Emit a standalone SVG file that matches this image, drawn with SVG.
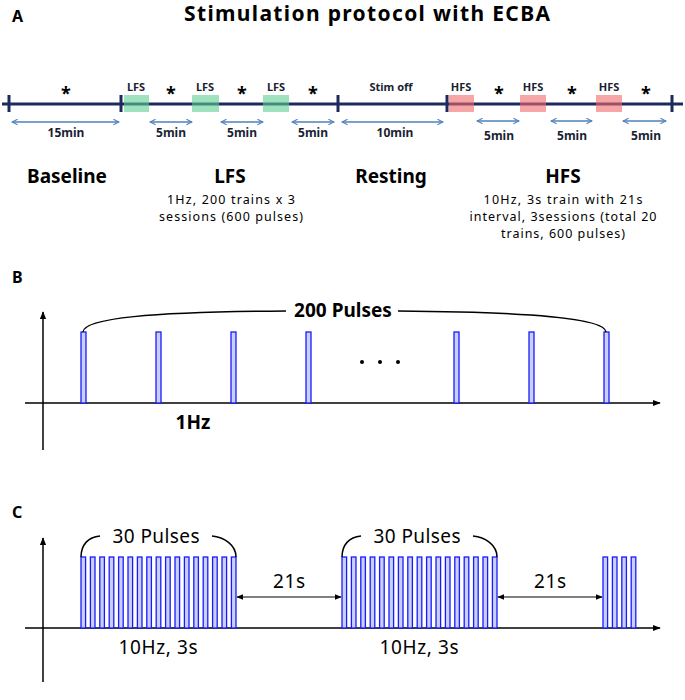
<svg xmlns="http://www.w3.org/2000/svg" xmlns:xlink="http://www.w3.org/1999/xlink" width="685" height="700" viewBox="0 0 685 700">
<style>
text{font-family:"Noto Sans","Open Sans","Liberation Sans",sans-serif;fill:#000}
.b{font-weight:bold}
.panel{font-size:16px;font-weight:bold}
.small{font-size:11px;font-weight:bold;fill:#1a1f33;text-anchor:middle}
.star{font-size:18px;font-weight:bold;text-anchor:middle}
.min{font-size:12px;font-weight:bold;fill:#1a1f33;text-anchor:middle}
.head{font-size:19px;font-weight:bold;text-anchor:middle}
.sub{font-size:12.5px;text-anchor:middle}
.ann{font-size:19px;text-anchor:middle}
.tl{stroke:#1c2a5e;stroke-width:3;fill:none}
.tick{stroke:#1c2a5e;stroke-width:3}
.lfs{fill:#5fcf92;fill-opacity:0.6}
.hfs{fill:#f06a6a;fill-opacity:0.6}
.dur{stroke:#4f81bd;stroke-width:1.5;fill:none;marker-start:url(#oa);marker-end:url(#oa)}
.axis{stroke:#000;stroke-width:1.5;fill:none;marker-end:url(#fa)}
.dbl{stroke:#000;stroke-width:1.2;fill:none;marker-start:url(#fa2);marker-end:url(#fa2)}
.brace{stroke:#000;stroke-width:1.5;fill:none}
.p{fill:#c8d0f5;stroke:#1a1aff;stroke-width:1.3}
</style>
<defs>
<marker id="oa" viewBox="0 0 10 10" refX="9" refY="5" markerWidth="7" markerHeight="7" markerUnits="userSpaceOnUse" orient="auto-start-reverse"><path d="M1,1 L9,5 L1,9" fill="none" stroke="#4f81bd" stroke-width="1.5"/></marker>
<marker id="fa" viewBox="0 0 10 10" refX="9" refY="5" markerWidth="8" markerHeight="8" markerUnits="userSpaceOnUse" orient="auto-start-reverse"><path d="M0,1 L10,5 L0,9 Z" fill="#000"/></marker>
<marker id="fa2" viewBox="0 0 10 10" refX="9" refY="5" markerWidth="7" markerHeight="7" markerUnits="userSpaceOnUse" orient="auto-start-reverse"><path d="M0,1 L10,5 L0,9 Z" fill="#000"/></marker>
<g id="train17">
<rect class="p" x="0" y="557" width="4.6" height="71"/><rect class="p" x="9.4" y="557" width="4.6" height="71"/><rect class="p" x="18.8" y="557" width="4.6" height="71"/><rect class="p" x="28.2" y="557" width="4.6" height="71"/><rect class="p" x="37.6" y="557" width="4.6" height="71"/><rect class="p" x="47" y="557" width="4.6" height="71"/><rect class="p" x="56.4" y="557" width="4.6" height="71"/><rect class="p" x="65.8" y="557" width="4.6" height="71"/><rect class="p" x="75.2" y="557" width="4.6" height="71"/><rect class="p" x="84.6" y="557" width="4.6" height="71"/><rect class="p" x="94" y="557" width="4.6" height="71"/><rect class="p" x="103.4" y="557" width="4.6" height="71"/><rect class="p" x="112.8" y="557" width="4.6" height="71"/><rect class="p" x="122.2" y="557" width="4.6" height="71"/><rect class="p" x="131.6" y="557" width="4.6" height="71"/><rect class="p" x="141" y="557" width="4.6" height="71"/><rect class="p" x="150.4" y="557" width="4.6" height="71"/>
</g>
<g id="train4">
<rect class="p" x="0" y="557" width="4.6" height="71"/><rect class="p" x="9.4" y="557" width="4.6" height="71"/><rect class="p" x="18.8" y="557" width="4.6" height="71"/><rect class="p" x="28.2" y="557" width="4.6" height="71"/>
</g>
</defs>
<rect width="685" height="700" fill="#fff"/>

<!-- Panel A -->
<g id="panelA">
<text class="panel" x="12" y="22">A</text>
<text class="b" x="367" y="21" font-size="21" text-anchor="middle" textLength="366">Stimulation protocol with ECBA</text>
</g>
<g id="timeline">
<line class="tl" x1="2" y1="104" x2="683" y2="104"/>
<line class="tick" x1="9" y1="95" x2="9" y2="112"/>
<line class="tick" x1="121" y1="95" x2="121" y2="112"/>
<line class="tick" x1="338" y1="95" x2="338" y2="112"/>
<line class="tick" x1="447" y1="95" x2="447" y2="112"/>
<line class="tick" x1="672" y1="95" x2="672" y2="112"/>
</g>
<g id="lfs1"><rect class="lfs" x="124" y="95" width="25" height="17"/><text class="small" x="136" y="91">LFS</text></g>
<g id="lfs2"><rect class="lfs" x="192" y="95" width="27" height="17"/><text class="small" x="205" y="91">LFS</text></g>
<g id="lfs3"><rect class="lfs" x="263" y="95" width="26" height="17"/><text class="small" x="276" y="91">LFS</text></g>
<g id="hfs1"><rect class="hfs" x="449" y="95" width="25" height="17"/><text class="small" x="461" y="91">HFS</text></g>
<g id="hfs2"><rect class="hfs" x="520" y="95" width="26" height="17"/><text class="small" x="533" y="91">HFS</text></g>
<g id="hfs3"><rect class="hfs" x="596" y="95" width="26" height="17"/><text class="small" x="609" y="91">HFS</text></g>
<g id="stars">
<text class="star" x="66" y="100">*</text>
<text class="star" x="171" y="100">*</text>
<text class="star" x="242" y="100">*</text>
<text class="star" x="313" y="100">*</text>
<text class="star" x="499" y="100">*</text>
<text class="star" x="572" y="100">*</text>
<text class="star" x="646" y="100">*</text>
<text class="small" x="391" y="91">Stim off</text>
</g>
<g id="durations">
<line class="dur" x1="12" y1="122" x2="119" y2="122"/>
<line class="dur" x1="150" y1="122" x2="192" y2="122"/>
<line class="dur" x1="221" y1="122" x2="263" y2="122"/>
<line class="dur" x1="292" y1="122" x2="334" y2="122"/>
<line class="dur" x1="342" y1="122" x2="443" y2="122"/>
<line class="dur" x1="477" y1="121" x2="519" y2="121"/>
<line class="dur" x1="551" y1="121" x2="592" y2="121"/>
<line class="dur" x1="623" y1="121" x2="666" y2="121"/>
<text class="min" x="66" y="137">15min</text>
<text class="min" x="171" y="137">5min</text>
<text class="min" x="242" y="137">5min</text>
<text class="min" x="313" y="137">5min</text>
<text class="min" x="395" y="137">10min</text>
<text class="min" x="499" y="140">5min</text>
<text class="min" x="572" y="140">5min</text>
<text class="min" x="646" y="140">5min</text>
</g>
<g id="phases">
<text class="head" x="67" y="183">Baseline</text>
<text class="head" x="230" y="183">LFS</text>
<text class="sub" x="231" y="204" textLength="128">1Hz, 200 trains x 3</text>
<text class="sub" x="231" y="221" textLength="144">sessions (600 pulses)</text>
<text class="head" x="391" y="183">Resting</text>
<text class="head" x="563" y="183">HFS</text>
<text class="sub" x="563" y="204" textLength="159">10Hz, 3s train with 21s</text>
<text class="sub" x="563" y="221" textLength="187">interval, 3sessions (total 20</text>
<text class="sub" x="563" y="238" textLength="124">trains, 600 pulses)</text>
</g>

<!-- Panel B -->
<g id="panelB">
<text class="panel" x="12" y="283">B</text>
<line class="axis" x1="43" y1="450" x2="43" y2="312"/>
<line class="axis" x1="25" y1="403" x2="660" y2="403"/>
<rect class="p" x="81" y="332" width="5" height="71"/>
<rect class="p" x="156" y="332" width="5" height="71"/>
<rect class="p" x="231" y="332" width="5" height="71"/>
<rect class="p" x="306" y="332" width="5" height="71"/>
<rect class="p" x="454" y="332" width="5" height="71"/>
<rect class="p" x="529" y="332" width="5" height="71"/>
<rect class="p" x="604" y="332" width="5" height="71"/>
<circle cx="362" cy="362" r="2"/><circle cx="380" cy="362" r="2"/><circle cx="398" cy="362" r="2"/>
<path class="brace" d="M83,332 C84,318 150,312 286,311"/>
<path class="brace" d="M398,311 C530,312 605,318 606,332"/>
<text class="b" x="343" y="317" font-size="19" text-anchor="middle">200 Pulses</text>
<text class="ann b" x="193" y="429" font-size="17">1Hz</text>
</g>

<!-- Panel C -->
<g id="panelC">
<text class="panel" x="12" y="518">C</text>
<line class="axis" x1="43" y1="682" x2="43" y2="538"/>
<line class="axis" x1="25" y1="628" x2="660" y2="628"/>
<use xlink:href="#train17" x="81"/>
<use xlink:href="#train17" x="342"/>
<use xlink:href="#train4" x="603"/>
<path class="brace" d="M81,557 C81,545 88,537 100,536"/>
<path class="brace" d="M212,536 C224,537 236,545 236,557"/>
<path class="brace" d="M342,557 C342,545 349,537 361,536"/>
<path class="brace" d="M473,536 C485,537 497,545 497,557"/>
<text class="ann" x="156" y="543" textLength="87">30 Pulses</text>
<text class="ann" x="417" y="543" textLength="87">30 Pulses</text>
<line class="dbl" x1="237" y1="597" x2="341" y2="597"/>
<line class="dbl" x1="498" y1="597" x2="602" y2="597"/>
<text class="ann" x="289" y="588" textLength="32">21s</text>
<text class="ann" x="550" y="588" textLength="32">21s</text>
<text class="ann" x="158" y="654" textLength="79">10Hz, 3s</text>
<text class="ann" x="419" y="654" textLength="79">10Hz, 3s</text>
</g>
</svg>
